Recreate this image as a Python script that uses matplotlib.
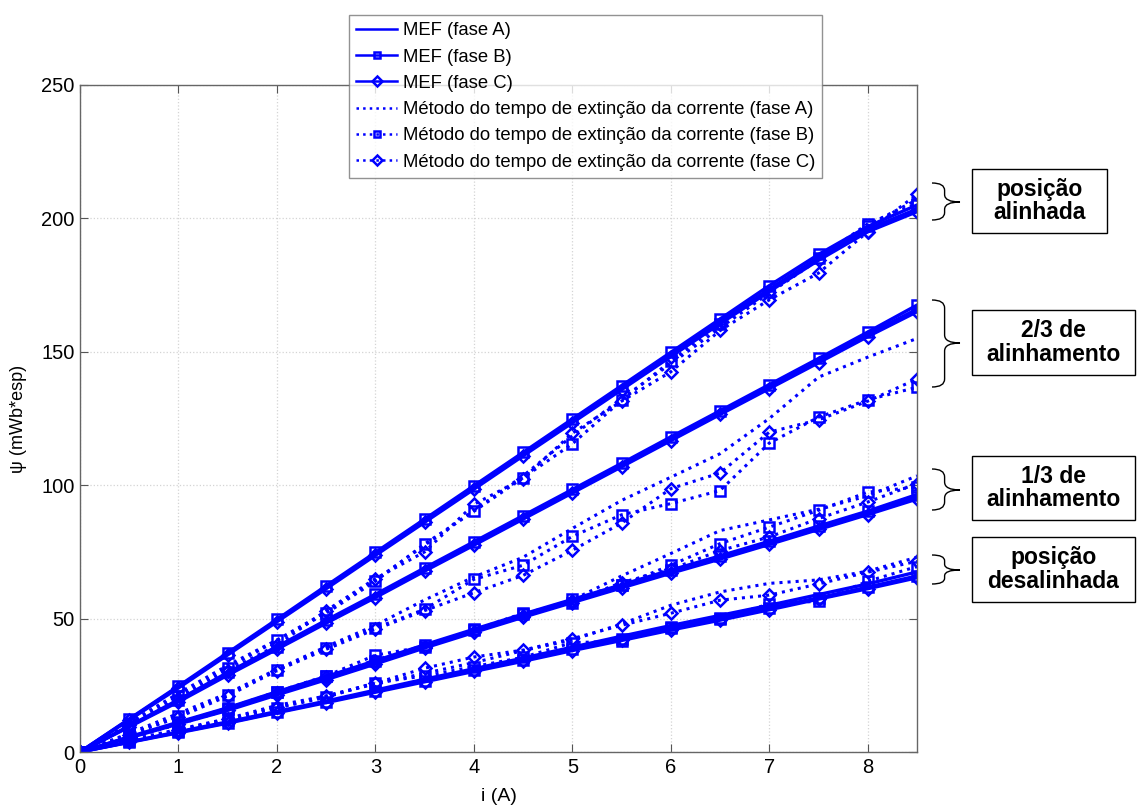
import numpy as np
import matplotlib
matplotlib.use("Agg")
import matplotlib.pyplot as plt
from matplotlib.path import Path
from matplotlib.patches import PathPatch, Rectangle

plt.rcParams['font.family'] = ['Liberation Sans', 'DejaVu Sans']

# corrente (A)
corrente = [0, 0.5, 1, 1.5, 2, 2.5, 3, 3.5, 4, 4.5, 5, 5.5, 6, 6.5, 7, 7.5, 8, 8.5]

# posicao alinhada
al_mef_a = [0, 12.2, 24.4, 36.8, 49.3, 61.8, 74.3, 86.7, 99.2, 111.6, 124.1, 136.5, 149.0, 161.3, 173.5, 185.3, 196.0, 203.5]
al_mef_b = [0, 12.4, 24.7, 37.2, 49.7, 62.3, 74.8, 87.3, 99.8, 112.3, 124.8, 137.3, 149.8, 162.3, 174.8, 186.5, 197.0, 205.0]
al_mef_c = [0, 12.0, 24.0, 36.4, 48.8, 61.2, 73.7, 86.1, 98.5, 111.0, 123.4, 135.8, 148.2, 160.5, 172.6, 184.3, 195.0, 202.5]
al_met_a = [0, 11.0, 22.0, 32.5, 42.0, 52.5, 64.5, 77.5, 90.5, 103.5, 118.5, 132.5, 145.5, 159.0, 172.0, 184.5, 197.5, 207.0]
al_met_b = [0, 10.5, 21.0, 31.5, 41.8, 52.0, 64.0, 78.0, 90.2, 102.8, 115.5, 131.8, 146.5, 160.5, 172.5, 185.0, 198.0, 205.5]
al_met_c = [0, 10.0, 20.0, 30.5, 40.0, 53.0, 65.0, 75.0, 92.8, 102.5, 119.5, 131.5, 142.5, 158.0, 169.5, 179.5, 195.0, 209.0]

# 2/3 de alinhamento
d23_mef_a = [0, 9.6, 19.2, 29.3, 39.0, 48.9, 58.5, 68.4, 78.2, 88.0, 97.8, 107.6, 117.5, 127.3, 137.0, 146.7, 156.5, 166.0]
d23_mef_b = [0, 9.8, 19.6, 29.8, 39.5, 49.4, 59.1, 69.0, 78.8, 88.6, 98.4, 108.2, 118.1, 127.9, 137.7, 147.5, 157.4, 167.5]
d23_mef_c = [0, 9.4, 18.8, 28.8, 38.5, 48.3, 57.9, 67.8, 77.5, 87.3, 97.1, 106.9, 116.7, 126.5, 136.2, 145.9, 155.7, 165.0]
d23_met_a = [0, 7.0, 14.5, 22.0, 31.0, 39.5, 47.5, 57.0, 65.6, 73.0, 83.8, 94.3, 103.0, 111.8, 125.0, 140.5, 148.0, 155.0]
d23_met_b = [0, 6.5, 13.5, 21.5, 30.8, 39.0, 46.5, 53.5, 64.7, 70.0, 80.8, 88.9, 93.1, 98.0, 115.8, 125.5, 132.0, 136.7]
d23_met_c = [0, 6.5, 13.0, 21.0, 30.5, 38.5, 46.0, 53.0, 59.7, 66.2, 75.6, 85.8, 98.7, 104.6, 119.9, 124.5, 131.5, 139.8]

# 1/3 de alinhamento
d13_mef_a = [0, 5.5, 10.8, 16.0, 21.9, 27.6, 33.5, 39.5, 45.3, 51.0, 56.5, 62.0, 67.5, 72.8, 78.3, 84.0, 89.5, 95.5]
d13_mef_b = [0, 5.7, 11.2, 16.6, 22.6, 28.3, 34.2, 40.2, 46.0, 51.7, 57.2, 62.7, 68.2, 73.5, 79.0, 84.7, 90.3, 96.5]
d13_mef_c = [0, 5.3, 10.5, 15.6, 21.4, 27.1, 33.0, 39.0, 44.8, 50.5, 56.0, 61.5, 67.0, 72.3, 77.8, 83.4, 89.0, 94.8]
d13_met_a = [0, 5.5, 11.0, 16.5, 22.5, 28.2, 34.5, 40.0, 45.5, 51.5, 57.0, 66.0, 74.4, 83.0, 87.0, 91.0, 96.0, 103.5]
d13_met_b = [0, 5.3, 10.6, 16.2, 22.6, 28.5, 36.3, 39.5, 45.7, 52.0, 56.0, 62.5, 70.0, 78.1, 84.3, 90.6, 97.4, 99.3]
d13_met_c = [0, 5.2, 10.4, 15.8, 22.0, 28.0, 34.0, 39.5, 45.0, 51.0, 56.5, 63.5, 68.5, 75.5, 80.6, 87.5, 93.7, 100.6]

# posicao desalinhada
un_mef_a = [0, 3.8, 7.6, 11.3, 15.2, 19.1, 23.2, 27.3, 31.2, 35.2, 39.3, 43.4, 47.4, 51.2, 55.0, 59.0, 63.0, 67.5]
un_mef_b = [0, 3.7, 7.4, 11.0, 14.9, 18.8, 22.7, 26.7, 30.6, 34.5, 38.5, 42.5, 46.5, 50.3, 54.0, 57.8, 61.8, 66.0]
un_mef_c = [0, 3.6, 7.2, 10.8, 14.7, 18.5, 22.4, 26.3, 30.2, 34.0, 38.0, 41.8, 45.7, 49.4, 53.3, 57.3, 61.2, 65.3]
un_met_a = [0, 4.5, 8.5, 12.5, 17.5, 21.0, 25.5, 29.5, 33.5, 38.0, 42.0, 48.0, 55.0, 60.0, 63.2, 64.5, 67.8, 73.0]
un_met_b = [0, 4.2, 8.0, 12.0, 16.5, 20.5, 26.0, 28.5, 32.0, 35.5, 41.0, 41.5, 47.0, 50.0, 55.5, 56.5, 64.0, 69.5]
un_met_c = [0, 4.0, 8.2, 12.3, 16.8, 21.0, 25.8, 31.4, 35.6, 38.2, 42.5, 47.5, 52.0, 56.9, 58.8, 63.0, 67.4, 71.5]

labels = ['MEF (fase A)', 'MEF (fase B)', 'MEF (fase C)',
          'Método do tempo de extinção da corrente (fase A)',
          'Método do tempo de extinção da corrente (fase B)',
          'Método do tempo de extinção da corrente (fase C)']

grupos = [
    [al_mef_a, al_mef_b, al_mef_c, al_met_a, al_met_b, al_met_c],
    [d23_mef_a, d23_mef_b, d23_mef_c, d23_met_a, d23_met_b, d23_met_c],
    [d13_mef_a, d13_mef_b, d13_mef_c, d13_met_a, d13_met_b, d13_met_c],
    [un_mef_a, un_mef_b, un_mef_c, un_met_a, un_met_b, un_met_c],
]

estilos = [('-', None, 2.4), ('-', 's', 2.4), ('-', 'D', 2.4),
           (':', None, 2.2), (':', 's', 2.2), (':', 'D', 2.2)]

W, H = 1138, 806
fig = plt.figure(figsize=(W / 100, H / 100), dpi=100)
ax = fig.add_axes([80 / W, 1 - 752 / H, (917 - 80) / W, (752 - 85) / H])

azul = (0, 0, 1)
for g, series in enumerate(grupos):
    for k, y in enumerate(series):
        ls, mk, lw = estilos[k]
        ms = 6.5 if mk == 's' else 6
        ax.plot(corrente, y, linestyle=ls, marker=mk, color=azul, lw=lw,
                markersize=ms, markerfacecolor='none', markeredgewidth=1.8,
                label=labels[k] if g == 0 else None)

ax.set_xlim(0, 8.5)
ax.set_ylim(0, 250)
ax.set_xticks(range(0, 9))
ax.set_yticks(range(0, 251, 50))
ax.grid(True, linestyle=':', color='#d4d4d4', lw=0.9)
ax.tick_params(direction='in', top=True, right=True, labelsize=14.5,
               length=6, color='#555555', pad=4)
for s in ax.spines.values():
    s.set_color('#666666')
    s.set_linewidth(1.0)
ax.set_xlabel('i (A)', fontsize=14, labelpad=8)
ax.set_ylabel('ψ (mWb*esp)', fontsize=13, labelpad=10)

leg = fig.legend(loc='upper left', bbox_to_anchor=(349 / W, 1 - 15 / H),
                 bbox_transform=fig.transFigure, borderaxespad=0, fontsize=13.3,
                 frameon=True, fancybox=False, edgecolor='#777777',
                 handlelength=2.2, handletextpad=0.3, labelspacing=0.5,
                 borderpad=0.4, numpoints=1)
leg.get_frame().set_linewidth(1.0)
for ln in leg.get_lines():
    ln.set_linewidth(1.8)
    ln.set_markersize(5)


def chave(top, bot, tip, x0=932, w=28):
    # chave "}" desenhada em pixels
    xm = x0 + w * 0.45
    xt = x0 + w
    r = min(8, (bot - top) / 5)
    pts = [(x0, top), (xm, top), (xm, top + r),
           (xm, tip - r), (xm, tip), (xt, tip),
           (xm, tip), (xm, tip + r),
           (xm, bot - r), (xm, bot), (x0, bot)]
    codes = [Path.MOVETO, Path.CURVE3, Path.CURVE3,
             Path.LINETO, Path.CURVE3, Path.CURVE3,
             Path.CURVE3, Path.CURVE3,
             Path.LINETO, Path.CURVE3, Path.CURVE3]
    pts = [(px / W, 1 - py / H) for px, py in pts]
    fig.patches.append(PathPatch(Path(pts, codes), transform=fig.transFigure,
                                 fill=False, lw=1.0, color='black'))


def caixa(texto, x0, y0, x1, y1):
    fig.patches.append(Rectangle((x0 / W, 1 - y1 / H), (x1 - x0) / W, (y1 - y0) / H,
                                 transform=fig.transFigure, fill=False,
                                 lw=1.0, edgecolor='black'))
    fig.text((x0 + x1) / 2 / W, 1 - (y0 + y1) / 2 / H, texto, ha='center',
             va='center', fontsize=16.5, fontweight='bold', linespacing=1.05)


chave(183, 220, 202)
chave(300, 387, 343)
chave(469, 510, 490)
chave(555, 584, 570)

caixa('posição\nalinhada', 972, 169, 1107, 233)
caixa('2/3 de\nalinhamento', 972, 310, 1135, 375)
caixa('1/3 de\nalinhamento', 972, 456, 1135, 520)
caixa('posição\ndesalinhada', 972, 537, 1135, 602)

fig.savefig('out.png', dpi=100)
